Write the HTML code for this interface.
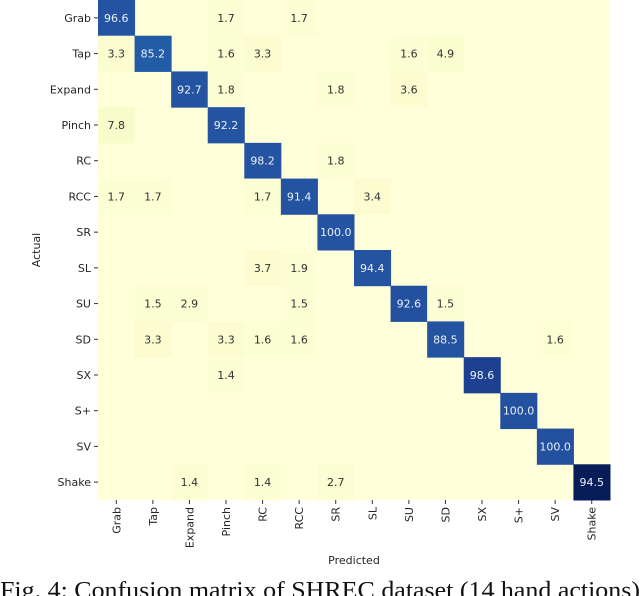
<!DOCTYPE html>
<html><head><meta charset="utf-8">
<style>
body{margin:0;width:640px;height:596px;background:#fff;overflow:hidden;font-family:"DejaVu Sans","Liberation Sans",sans-serif;}
svg{position:absolute;left:0;top:0;}
</style></head>
<body>
<svg id="chart" width="640" height="596"></svg>
<script>
const labels=["Grab","Tap","Expand","Pinch","RC","RCC","SR","SL","SU","SD","SX","S+","SV","Shake"];
const cells=[
[0,0,96.6],[0,3,1.7],[0,5,1.7],
[1,0,3.3],[1,1,85.2],[1,3,1.6],[1,4,3.3],[1,8,1.6],[1,9,4.9],
[2,2,92.7],[2,3,1.8],[2,6,1.8],[2,8,3.6],
[3,0,7.8],[3,3,92.2],
[4,4,98.2],[4,6,1.8],
[5,0,1.7],[5,1,1.7],[5,4,1.7],[5,5,91.4],[5,7,3.4],
[6,6,100.0],
[7,4,3.7],[7,5,1.9],[7,7,94.4],
[8,1,1.5],[8,2,2.9],[8,5,1.5],[8,8,92.6],[8,9,1.5],
[9,1,3.3],[9,3,3.3],[9,4,1.6],[9,5,1.6],[9,9,88.5],[9,12,1.6],
[10,3,1.4],[10,10,98.6],
[11,11,100.0],
[12,12,100.0],
[13,2,1.4],[13,4,1.4],[13,6,2.7],[13,13,94.5]];
// relative sample-count intensity for colour (diagonal cells coloured by counts)
const intensity=[0.78,0.72,0.78,0.78,0.78,0.78,0.78,0.78,0.8,0.78,0.88,0.8,0.8,1.0];
const X0=98,Y0=0,W=512,H=500,n=labels.length,cw=W/n,ch=H/n;
const xs=i=>X0+i*cw, ys=i=>Y0+i*ch;
const ns="http://www.w3.org/2000/svg",svg=document.getElementById('chart');
function el(t,a,txt){const e=document.createElementNS(ns,t);for(const k in a)e.setAttribute(k,a[k]);if(txt!==undefined)e.textContent=txt;svg.appendChild(e);return e;}
const stops=[[0,[255,255,217]],[0.1,[246,251,200]],[0.3,[199,233,180]],[0.5,[65,182,196]],[0.7,[34,94,168]],[0.8,[36,80,160]],[0.9,[28,60,140]],[1,[8,29,88]]];
function col(t){for(let i=1;i<stops.length;i++){if(t<=stops[i][0]){const a=stops[i-1],b=stops[i],f=(t-a[0])/(b[0]-a[0]);return 'rgb('+a[1].map((v,k)=>Math.round(v+(b[1][k]-v)*f)).join(',')+')';}}return 'rgb(8,29,88)';}
const bg=el('rect',{x:X0,y:Y0,width:W,height:H,fill:'#ffffd9'});


cells.forEach(([r,c,v])=>{
  const t=r===c?intensity[r]:Math.min(0.1,v/100*0.8+0.02);
  const rc=el('rect',{x:xs(c),y:ys(r),width:cw+0.5,height:ch+0.5,fill:col(t)});
  
  
  const tx=el('text',{x:xs(c)+cw/2,y:ys(r)+ch/2+4,'text-anchor':'middle','font-size':11,fill:r===c?'#e8f0f8':'#333'},v.toFixed(1));
  
  
});
labels.forEach((l,i)=>{
  const y=ys(i)+ch/2;
  el('line',{x1:X0-4,x2:X0,y1:y,y2:y,stroke:'#333'});
  const t=el('text',{x:X0-7,y:y+4,'text-anchor':'end','font-size':11,fill:'#262626'},l);
  
  
  const x=xs(i)+cw/2;
  el('line',{x1:x,x2:x,y1:Y0+H,y2:Y0+H+4,stroke:'#333'});
  const u=el('text',{x:x+4,y:Y0+H+7,'text-anchor':'end','font-size':11,fill:'#262626',transform:`rotate(-90 ${x+4} ${Y0+H+7})`},l);
  
  
});
const xt=el('text',{x:X0+W/2,y:564,'text-anchor':'middle','font-size':11,fill:'#262626'},'Predicted');


const yt=el('text',{x:40,y:250,'text-anchor':'middle','font-size':11,fill:'#262626',transform:'rotate(-90 40 250)'},'Actual');


const cap=el('text',{x:0,y:598,'font-size':24,'font-family':'Liberation Serif,serif',fill:'#111',textLength:640,lengthAdjust:'spacingAndGlyphs'},'Fig. 4: Confusion matrix of SHREC dataset (14 hand actions)');


</script>
</body></html>
